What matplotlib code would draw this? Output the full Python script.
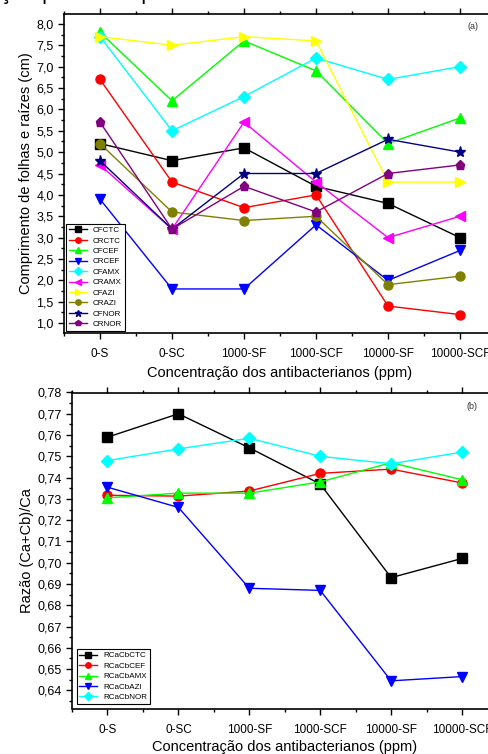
# Comprimento de folhas e raízes / razão (Ca+Cb)/Ca
import matplotlib
matplotlib.use('Agg')
import matplotlib.pyplot as plt
from matplotlib.ticker import FuncFormatter, MultipleLocator

plt.rcParams['font.family'] = ['Liberation Sans', 'DejaVu Sans']

# eixos x
categorias = ['0-S', '0-SC', '1000-SF', '1000-SCF', '10000-SF', '10000-SCF']
x = [1, 2, 3, 4, 5, 6]

# painel (a) - comprimento (cm)
CFCTC = [5.2, 4.8, 5.1, 4.2, 3.8, 3.0]
CRCTC = [6.7, 4.3, 3.7, 4.0, 1.4, 1.2]
CFCEF = [7.8, 6.2, 7.6, 6.9, 5.2, 5.8]
CRCEF = [3.9, 1.8, 1.8, 3.3, 2.0, 2.7]
CFAMX = [7.7, 5.5, 6.3, 7.2, 6.7, 7.0]
CRAMX = [4.7, 3.2, 5.7, 4.3, 3.0, 3.5]
CFAZI = [7.7, 7.5, 7.7, 7.6, 4.3, 4.3]
CRAZI = [5.2, 3.6, 3.4, 3.5, 1.9, 2.1]
CFNOR = [4.8, 3.2, 4.5, 4.5, 5.3, 5.0]
CRNOR = [5.7, 3.2, 4.2, 3.6, 4.5, 4.7]

# painel (b) - razão (Ca+Cb)/Ca
RCaCbCTC = [0.759, 0.770, 0.754, 0.737, 0.693, 0.702]
RCaCbCEF = [0.7317, 0.7313, 0.7337, 0.742, 0.744, 0.7375]
RCaCbAMX = [0.7305, 0.7327, 0.7327, 0.738, 0.747, 0.739]
RCaCbAZI = [0.7355, 0.726, 0.688, 0.687, 0.6445, 0.6465]
RCaCbNOR = [0.748, 0.7535, 0.7585, 0.750, 0.7465, 0.752]

series_a = [
    ('CFCTC', CFCTC, 'black', 's'),
    ('CRCTC', CRCTC, 'red', 'o'),
    ('CFCEF', CFCEF, '#00ff00', '^'),
    ('CRCEF', CRCEF, 'blue', 'v'),
    ('CFAMX', CFAMX, 'cyan', 'D'),
    ('CRAMX', CRAMX, 'magenta', '<'),
    ('CFAZI', CFAZI, 'yellow', '>'),
    ('CRAZI', CRAZI, '#808000', 'o'),
    ('CFNOR', CFNOR, '#000080', '*'),
    ('CRNOR', CRNOR, '#800080', 'p'),
]
series_b = [
    ('RCaCbCTC', RCaCbCTC, 'black', 's'),
    ('RCaCbCEF', RCaCbCEF, 'red', 'o'),
    ('RCaCbAMX', RCaCbAMX, '#00ff00', '^'),
    ('RCaCbAZI', RCaCbAZI, 'blue', 'v'),
    ('RCaCbNOR', RCaCbNOR, 'cyan', 'D'),
]

virgula1 = FuncFormatter(lambda v, p: f'{v:.1f}'.replace('.', ','))
virgula2 = FuncFormatter(lambda v, p: f'{v:.2f}'.replace('.', ','))

fig = plt.figure(figsize=(4.88, 7.54), dpi=100)

# titulo cortado no topo da imagem
fig.text(0.0, 1 + 1.5 / 754, 'ção para este parâmetro', fontsize=16, va='baseline', ha='left')

ax1 = fig.add_axes([64 / 488, 1 - 333 / 754, 432 / 488, 319 / 754])
ax2 = fig.add_axes([72 / 488, 1 - 708.5 / 754, 425.5 / 488, 316 / 754])


def estilo(ax):
    ax.set_xlim(0.5, 6.5)
    ax.set_xticks(x)
    ax.set_xticklabels(categorias)
    ax.xaxis.set_minor_locator(MultipleLocator(0.5))
    ax.tick_params(axis='both', which='major', direction='out', length=4, width=1, labelsize=9)
    ax.tick_params(axis='both', which='minor', direction='out', length=2, width=1)
    ax.tick_params(axis='x', which='both', top=True, labeltop=False)
    ax.tick_params(axis='x', which='major', pad=7, labelsize=8.5)
    for s in ax.spines.values():
        s.set_linewidth(1.2)


for nome, vals, cor, mk in series_a:
    ms = 8 if mk == '*' else 6.5
    ax1.plot(x, vals, color=cor, marker=mk, markersize=ms, linewidth=1, label=nome)
estilo(ax1)
ax1.set_ylim(0.77, 8.23)
ax1.yaxis.set_major_locator(MultipleLocator(0.5))
ax1.yaxis.set_minor_locator(MultipleLocator(0.25))
ax1.yaxis.set_major_formatter(virgula1)
ax1.set_ylabel('Comprimento de folhas e raízes (cm)', fontsize=10.5, labelpad=2)
ax1.set_xlabel('Concentração dos antibacterianos (ppm)', fontsize=10.5, labelpad=4)
ax1.text(0.935, 0.953, '(a)', transform=ax1.transAxes, fontsize=6.5, color='#333333')
leg = ax1.legend(loc='lower left', fontsize=5.8, markerscale=0.6, handlelength=2.2,
                 labelspacing=0.35, borderpad=0.3, borderaxespad=0.3, fancybox=False,
                 edgecolor='black', framealpha=1)
leg.get_frame().set_linewidth(0.8)

for nome, vals, cor, mk in series_b:
    ax2.plot(x, vals, color=cor, marker=mk, markersize=6.5, linewidth=1, label=nome)
estilo(ax2)
ax2.set_ylim(0.6315, 0.78)
ax2.yaxis.set_major_locator(MultipleLocator(0.01))
ax2.yaxis.set_minor_locator(MultipleLocator(0.005))
ax2.yaxis.set_major_formatter(virgula2)
ax2.set_ylabel('Razão (Ca+Cb)/Ca', fontsize=10.5, labelpad=2)
ax2.set_xlabel('Concentração dos antibacterianos (ppm)', fontsize=10.5, labelpad=3)
ax2.text(0.928, 0.948, '(b)', transform=ax2.transAxes, fontsize=6.5, color='#333333')
leg2 = ax2.legend(loc='lower left', fontsize=5.8, markerscale=0.6, handlelength=2.2,
                  labelspacing=0.35, borderpad=0.3, borderaxespad=0.6, fancybox=False,
                  edgecolor='black', framealpha=1)
leg2.get_frame().set_linewidth(0.8)

fig.savefig('out.png', dpi=100)
